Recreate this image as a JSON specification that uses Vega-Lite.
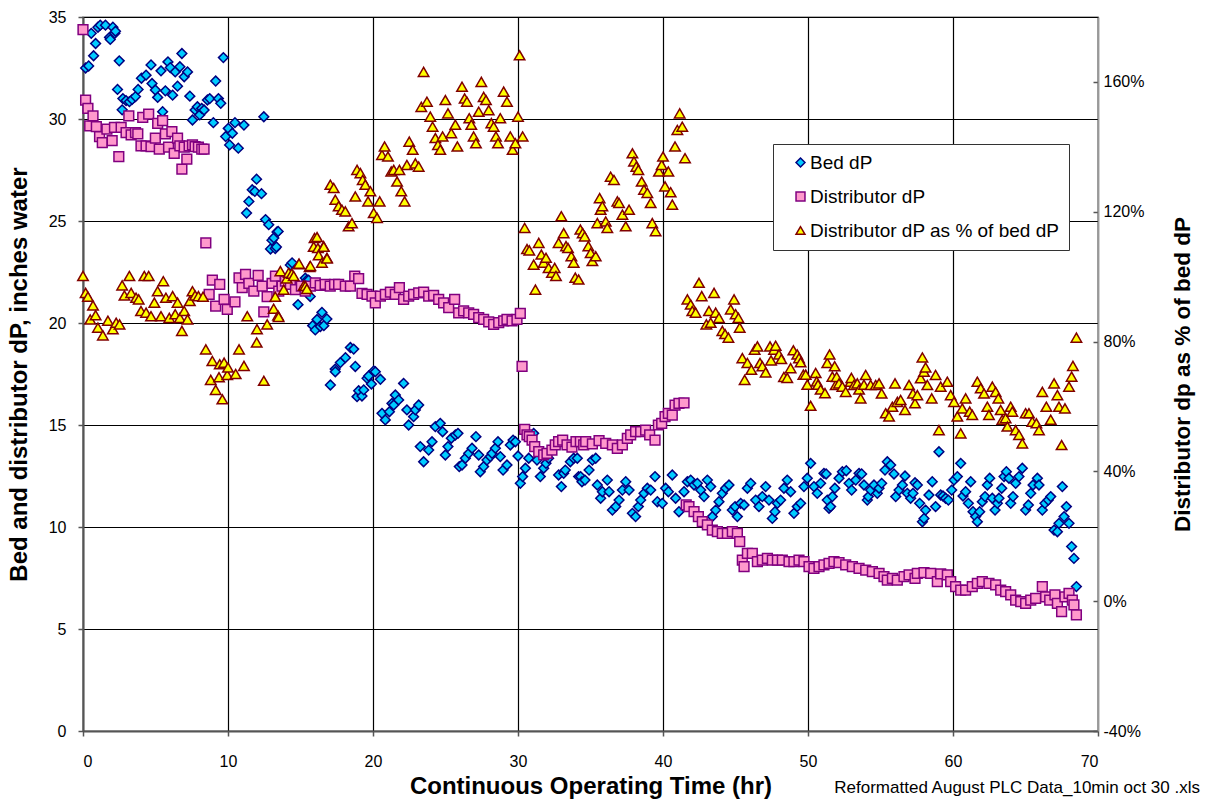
{
  "$schema": "https://vega.github.io/schema/vega-lite/v6.json",
  "width": 1015,
  "height": 714,
  "autosize": {"type": "none"},
  "padding": {"left": 83, "top": 17, "right": 110, "bottom": 70},
  "background": "white",
  "config": {
    "font": "Liberation Sans",
    "view": {"stroke": "#999999", "strokeWidth": 1.5},
    "axis": {
      "labelColor": "black",
      "titleColor": "black",
      "labelFontSize": 16,
      "titleFontSize": 22,
      "titleFontWeight": "bold",
      "gridColor": "black",
      "gridWidth": 1.2,
      "gridOpacity": 1,
      "domainColor": "#555555",
      "domainWidth": 2,
      "tickColor": "#555555",
      "tickWidth": 1.5,
      "tickSize": 5
    }
  },
  "title": {
    "text": "Reformatted August PLC Data_10min oct 30 .xls",
    "orient": "bottom",
    "anchor": "end",
    "frame": "group",
    "fontSize": 17,
    "fontWeight": "normal",
    "color": "black",
    "dx": 102,
    "offset": -18
  },
  "data": {
    "values": [
      {"hr": 0.18, "value": 32.5, "series": "Bed dP"},
      {"hr": 0.39, "value": 32.6, "series": "Bed dP"},
      {"hr": 0.57, "value": 34.2, "series": "Bed dP"},
      {"hr": 0.73, "value": 33.1, "series": "Bed dP"},
      {"hr": 0.87, "value": 33.7, "series": "Bed dP"},
      {"hr": 1.03, "value": 34.5, "series": "Bed dP"},
      {"hr": 1.19, "value": 34.6, "series": "Bed dP"},
      {"hr": 1.55, "value": 34.6, "series": "Bed dP"},
      {"hr": 1.83, "value": 34.0, "series": "Bed dP"},
      {"hr": 1.88, "value": 33.9, "series": "Bed dP"},
      {"hr": 2.06, "value": 34.5, "series": "Bed dP"},
      {"hr": 2.2, "value": 34.2, "series": "Bed dP"},
      {"hr": 2.24, "value": 34.3, "series": "Bed dP"},
      {"hr": 2.38, "value": 31.45, "series": "Bed dP"},
      {"hr": 2.5, "value": 32.85, "series": "Bed dP"},
      {"hr": 2.7, "value": 30.45, "series": "Bed dP"},
      {"hr": 2.75, "value": 31.0, "series": "Bed dP"},
      {"hr": 2.97, "value": 30.9, "series": "Bed dP"},
      {"hr": 3.2, "value": 30.85, "series": "Bed dP"},
      {"hr": 3.39, "value": 30.96, "series": "Bed dP"},
      {"hr": 3.62, "value": 31.1, "series": "Bed dP"},
      {"hr": 3.8, "value": 31.45, "series": "Bed dP"},
      {"hr": 4.03, "value": 32.0, "series": "Bed dP"},
      {"hr": 4.35, "value": 32.15, "series": "Bed dP"},
      {"hr": 4.69, "value": 32.65, "series": "Bed dP"},
      {"hr": 4.76, "value": 31.74, "series": "Bed dP"},
      {"hr": 4.99, "value": 31.42, "series": "Bed dP"},
      {"hr": 5.15, "value": 31.06, "series": "Bed dP"},
      {"hr": 5.38, "value": 32.36, "series": "Bed dP"},
      {"hr": 5.49, "value": 30.36, "series": "Bed dP"},
      {"hr": 5.68, "value": 31.38, "series": "Bed dP"},
      {"hr": 5.86, "value": 32.8, "series": "Bed dP"},
      {"hr": 6.02, "value": 32.52, "series": "Bed dP"},
      {"hr": 6.18, "value": 31.17, "series": "Bed dP"},
      {"hr": 6.36, "value": 32.31, "series": "Bed dP"},
      {"hr": 6.52, "value": 31.61, "series": "Bed dP"},
      {"hr": 6.68, "value": 32.56, "series": "Bed dP"},
      {"hr": 6.82, "value": 33.21, "series": "Bed dP"},
      {"hr": 6.98, "value": 32.07, "series": "Bed dP"},
      {"hr": 7.21, "value": 32.31, "series": "Bed dP"},
      {"hr": 7.37, "value": 31.12, "series": "Bed dP"},
      {"hr": 7.55, "value": 29.95, "series": "Bed dP"},
      {"hr": 7.73, "value": 30.44, "series": "Bed dP"},
      {"hr": 7.89, "value": 30.6, "series": "Bed dP"},
      {"hr": 8.05, "value": 30.2, "series": "Bed dP"},
      {"hr": 8.19, "value": 30.52, "series": "Bed dP"},
      {"hr": 8.35, "value": 30.44, "series": "Bed dP"},
      {"hr": 8.58, "value": 30.93, "series": "Bed dP"},
      {"hr": 8.74, "value": 31.0, "series": "Bed dP"},
      {"hr": 8.99, "value": 29.82, "series": "Bed dP"},
      {"hr": 9.15, "value": 31.86, "series": "Bed dP"},
      {"hr": 9.34, "value": 31.0, "series": "Bed dP"},
      {"hr": 9.5, "value": 30.77, "series": "Bed dP"},
      {"hr": 9.68, "value": 33.01, "series": "Bed dP"},
      {"hr": 9.84, "value": 29.14, "series": "Bed dP"},
      {"hr": 10.02, "value": 29.54, "series": "Bed dP"},
      {"hr": 10.11, "value": 28.73, "series": "Bed dP"},
      {"hr": 10.3, "value": 29.3, "series": "Bed dP"},
      {"hr": 10.48, "value": 29.82, "series": "Bed dP"},
      {"hr": 10.71, "value": 28.57, "series": "Bed dP"},
      {"hr": 11.1, "value": 29.7, "series": "Bed dP"},
      {"hr": 11.28, "value": 25.39, "series": "Bed dP"},
      {"hr": 11.44, "value": 25.96, "series": "Bed dP"},
      {"hr": 11.67, "value": 26.53, "series": "Bed dP"},
      {"hr": 11.85, "value": 26.45, "series": "Bed dP"},
      {"hr": 11.97, "value": 27.05, "series": "Bed dP"},
      {"hr": 12.31, "value": 26.34, "series": "Bed dP"},
      {"hr": 12.47, "value": 30.11, "series": "Bed dP"},
      {"hr": 12.59, "value": 25.07, "series": "Bed dP"},
      {"hr": 12.81, "value": 24.82, "series": "Bed dP"},
      {"hr": 12.93, "value": 23.63, "series": "Bed dP"},
      {"hr": 13.03, "value": 24.06, "series": "Bed dP"},
      {"hr": 13.16, "value": 24.17, "series": "Bed dP"},
      {"hr": 13.26, "value": 23.65, "series": "Bed dP"},
      {"hr": 13.34, "value": 23.73, "series": "Bed dP"},
      {"hr": 13.38, "value": 24.46, "series": "Bed dP"},
      {"hr": 13.46, "value": 24.49, "series": "Bed dP"},
      {"hr": 14.3, "value": 22.84, "series": "Bed dP"},
      {"hr": 14.42, "value": 22.95, "series": "Bed dP"},
      {"hr": 14.83, "value": 20.9, "series": "Bed dP"},
      {"hr": 15.33, "value": 22.2, "series": "Bed dP"},
      {"hr": 15.44, "value": 22.1, "series": "Bed dP"},
      {"hr": 15.56, "value": 22.1, "series": "Bed dP"},
      {"hr": 15.67, "value": 21.3, "series": "Bed dP"},
      {"hr": 15.84, "value": 19.87, "series": "Bed dP"},
      {"hr": 16.02, "value": 19.66, "series": "Bed dP"},
      {"hr": 16.14, "value": 20.17, "series": "Bed dP"},
      {"hr": 16.37, "value": 19.83, "series": "Bed dP"},
      {"hr": 16.48, "value": 20.52, "series": "Bed dP"},
      {"hr": 16.61, "value": 19.87, "series": "Bed dP"},
      {"hr": 16.82, "value": 20.2, "series": "Bed dP"},
      {"hr": 17.06, "value": 16.96, "series": "Bed dP"},
      {"hr": 17.39, "value": 17.74, "series": "Bed dP"},
      {"hr": 17.4, "value": 17.61, "series": "Bed dP"},
      {"hr": 17.75, "value": 18.06, "series": "Bed dP"},
      {"hr": 18.1, "value": 18.3, "series": "Bed dP"},
      {"hr": 18.44, "value": 18.8, "series": "Bed dP"},
      {"hr": 18.67, "value": 18.72, "series": "Bed dP"},
      {"hr": 18.78, "value": 17.87, "series": "Bed dP"},
      {"hr": 18.9, "value": 16.39, "series": "Bed dP"},
      {"hr": 19.01, "value": 16.68, "series": "Bed dP"},
      {"hr": 19.24, "value": 16.42, "series": "Bed dP"},
      {"hr": 19.36, "value": 16.72, "series": "Bed dP"},
      {"hr": 19.59, "value": 17.29, "series": "Bed dP"},
      {"hr": 19.7, "value": 17.4, "series": "Bed dP"},
      {"hr": 19.89, "value": 17.01, "series": "Bed dP"},
      {"hr": 20.05, "value": 17.65, "series": "Bed dP"},
      {"hr": 20.16, "value": 17.61, "series": "Bed dP"},
      {"hr": 20.51, "value": 17.24, "series": "Bed dP"},
      {"hr": 20.62, "value": 15.57, "series": "Bed dP"},
      {"hr": 20.85, "value": 15.25, "series": "Bed dP"},
      {"hr": 21.13, "value": 15.65, "series": "Bed dP"},
      {"hr": 21.31, "value": 16.06, "series": "Bed dP"},
      {"hr": 21.43, "value": 15.98, "series": "Bed dP"},
      {"hr": 21.54, "value": 16.47, "series": "Bed dP"},
      {"hr": 21.77, "value": 16.23, "series": "Bed dP"},
      {"hr": 22.11, "value": 17.04, "series": "Bed dP"},
      {"hr": 22.34, "value": 15.74, "series": "Bed dP"},
      {"hr": 22.46, "value": 15.0, "series": "Bed dP"},
      {"hr": 22.8, "value": 15.41, "series": "Bed dP"},
      {"hr": 22.92, "value": 15.74, "series": "Bed dP"},
      {"hr": 23.15, "value": 15.98, "series": "Bed dP"},
      {"hr": 23.26, "value": 13.94, "series": "Bed dP"},
      {"hr": 23.49, "value": 13.2, "series": "Bed dP"},
      {"hr": 23.84, "value": 13.77, "series": "Bed dP"},
      {"hr": 24.07, "value": 14.18, "series": "Bed dP"},
      {"hr": 24.3, "value": 14.92, "series": "Bed dP"},
      {"hr": 24.64, "value": 15.08, "series": "Bed dP"},
      {"hr": 24.8, "value": 14.67, "series": "Bed dP"},
      {"hr": 24.99, "value": 13.53, "series": "Bed dP"},
      {"hr": 25.17, "value": 13.94, "series": "Bed dP"},
      {"hr": 25.4, "value": 14.35, "series": "Bed dP"},
      {"hr": 25.68, "value": 14.51, "series": "Bed dP"},
      {"hr": 25.86, "value": 14.59, "series": "Bed dP"},
      {"hr": 25.95, "value": 12.96, "series": "Bed dP"},
      {"hr": 26.14, "value": 13.04, "series": "Bed dP"},
      {"hr": 26.37, "value": 13.37, "series": "Bed dP"},
      {"hr": 26.6, "value": 13.61, "series": "Bed dP"},
      {"hr": 26.83, "value": 13.86, "series": "Bed dP"},
      {"hr": 27.1, "value": 14.43, "series": "Bed dP"},
      {"hr": 27.29, "value": 13.53, "series": "Bed dP"},
      {"hr": 27.4, "value": 12.71, "series": "Bed dP"},
      {"hr": 27.63, "value": 12.96, "series": "Bed dP"},
      {"hr": 27.86, "value": 13.28, "series": "Bed dP"},
      {"hr": 28.09, "value": 13.45, "series": "Bed dP"},
      {"hr": 28.21, "value": 13.61, "series": "Bed dP"},
      {"hr": 28.44, "value": 13.86, "series": "Bed dP"},
      {"hr": 28.62, "value": 14.18, "series": "Bed dP"},
      {"hr": 28.78, "value": 13.45, "series": "Bed dP"},
      {"hr": 28.97, "value": 12.79, "series": "Bed dP"},
      {"hr": 29.24, "value": 13.04, "series": "Bed dP"},
      {"hr": 29.47, "value": 14.02, "series": "Bed dP"},
      {"hr": 29.66, "value": 14.26, "series": "Bed dP"},
      {"hr": 29.82, "value": 14.18, "series": "Bed dP"},
      {"hr": 30.0, "value": 13.48, "series": "Bed dP"},
      {"hr": 30.16, "value": 12.14, "series": "Bed dP"},
      {"hr": 30.32, "value": 12.47, "series": "Bed dP"},
      {"hr": 30.51, "value": 12.88, "series": "Bed dP"},
      {"hr": 30.74, "value": 13.37, "series": "Bed dP"},
      {"hr": 31.08, "value": 14.59, "series": "Bed dP"},
      {"hr": 31.31, "value": 13.28, "series": "Bed dP"},
      {"hr": 31.54, "value": 12.47, "series": "Bed dP"},
      {"hr": 31.77, "value": 12.88, "series": "Bed dP"},
      {"hr": 31.93, "value": 13.12, "series": "Bed dP"},
      {"hr": 32.11, "value": 13.37, "series": "Bed dP"},
      {"hr": 32.8, "value": 12.55, "series": "Bed dP"},
      {"hr": 32.99, "value": 11.98, "series": "Bed dP"},
      {"hr": 33.15, "value": 12.63, "series": "Bed dP"},
      {"hr": 33.26, "value": 12.79, "series": "Bed dP"},
      {"hr": 33.61, "value": 13.2, "series": "Bed dP"},
      {"hr": 33.84, "value": 13.37, "series": "Bed dP"},
      {"hr": 34.09, "value": 13.37, "series": "Bed dP"},
      {"hr": 34.18, "value": 12.47, "series": "Bed dP"},
      {"hr": 34.32, "value": 12.47, "series": "Bed dP"},
      {"hr": 34.41, "value": 12.22, "series": "Bed dP"},
      {"hr": 34.62, "value": 12.3, "series": "Bed dP"},
      {"hr": 34.9, "value": 12.79, "series": "Bed dP"},
      {"hr": 35.13, "value": 13.28, "series": "Bed dP"},
      {"hr": 35.36, "value": 13.37, "series": "Bed dP"},
      {"hr": 35.47, "value": 12.06, "series": "Bed dP"},
      {"hr": 35.7, "value": 11.41, "series": "Bed dP"},
      {"hr": 35.82, "value": 11.73, "series": "Bed dP"},
      {"hr": 36.16, "value": 12.3, "series": "Bed dP"},
      {"hr": 36.28, "value": 11.73, "series": "Bed dP"},
      {"hr": 36.51, "value": 10.83, "series": "Bed dP"},
      {"hr": 36.74, "value": 11.0, "series": "Bed dP"},
      {"hr": 36.97, "value": 11.32, "series": "Bed dP"},
      {"hr": 37.2, "value": 11.81, "series": "Bed dP"},
      {"hr": 37.43, "value": 12.22, "series": "Bed dP"},
      {"hr": 37.66, "value": 11.81, "series": "Bed dP"},
      {"hr": 37.89, "value": 10.67, "series": "Bed dP"},
      {"hr": 38.11, "value": 10.51, "series": "Bed dP"},
      {"hr": 38.3, "value": 11.0, "series": "Bed dP"},
      {"hr": 38.46, "value": 11.32, "series": "Bed dP"},
      {"hr": 38.69, "value": 11.65, "series": "Bed dP"},
      {"hr": 38.92, "value": 11.9, "series": "Bed dP"},
      {"hr": 39.15, "value": 11.81, "series": "Bed dP"},
      {"hr": 39.45, "value": 12.47, "series": "Bed dP"},
      {"hr": 39.61, "value": 11.24, "series": "Bed dP"},
      {"hr": 39.95, "value": 11.16, "series": "Bed dP"},
      {"hr": 40.18, "value": 11.9, "series": "Bed dP"},
      {"hr": 40.37, "value": 11.73, "series": "Bed dP"},
      {"hr": 40.64, "value": 12.55, "series": "Bed dP"},
      {"hr": 40.87, "value": 11.41, "series": "Bed dP"},
      {"hr": 41.1, "value": 10.75, "series": "Bed dP"},
      {"hr": 41.45, "value": 11.73, "series": "Bed dP"},
      {"hr": 41.68, "value": 12.22, "series": "Bed dP"},
      {"hr": 41.91, "value": 12.3, "series": "Bed dP"},
      {"hr": 42.14, "value": 12.06, "series": "Bed dP"},
      {"hr": 42.37, "value": 12.14, "series": "Bed dP"},
      {"hr": 42.6, "value": 11.81, "series": "Bed dP"},
      {"hr": 42.83, "value": 11.49, "series": "Bed dP"},
      {"hr": 43.06, "value": 12.3, "series": "Bed dP"},
      {"hr": 43.29, "value": 11.98, "series": "Bed dP"},
      {"hr": 43.4, "value": 10.51, "series": "Bed dP"},
      {"hr": 43.63, "value": 10.83, "series": "Bed dP"},
      {"hr": 43.86, "value": 11.24, "series": "Bed dP"},
      {"hr": 44.09, "value": 11.65, "series": "Bed dP"},
      {"hr": 44.32, "value": 11.9, "series": "Bed dP"},
      {"hr": 44.55, "value": 12.06, "series": "Bed dP"},
      {"hr": 44.78, "value": 10.83, "series": "Bed dP"},
      {"hr": 44.97, "value": 11.0, "series": "Bed dP"},
      {"hr": 45.13, "value": 10.51, "series": "Bed dP"},
      {"hr": 45.36, "value": 11.16, "series": "Bed dP"},
      {"hr": 45.59, "value": 11.08, "series": "Bed dP"},
      {"hr": 45.82, "value": 11.9, "series": "Bed dP"},
      {"hr": 46.05, "value": 12.14, "series": "Bed dP"},
      {"hr": 46.39, "value": 11.32, "series": "Bed dP"},
      {"hr": 46.62, "value": 11.0, "series": "Bed dP"},
      {"hr": 46.85, "value": 11.49, "series": "Bed dP"},
      {"hr": 47.08, "value": 11.98, "series": "Bed dP"},
      {"hr": 47.31, "value": 11.32, "series": "Bed dP"},
      {"hr": 47.54, "value": 10.42, "series": "Bed dP"},
      {"hr": 47.72, "value": 10.75, "series": "Bed dP"},
      {"hr": 47.89, "value": 11.16, "series": "Bed dP"},
      {"hr": 48.11, "value": 11.32, "series": "Bed dP"},
      {"hr": 48.34, "value": 11.9, "series": "Bed dP"},
      {"hr": 48.57, "value": 12.3, "series": "Bed dP"},
      {"hr": 48.8, "value": 11.73, "series": "Bed dP"},
      {"hr": 49.03, "value": 10.67, "series": "Bed dP"},
      {"hr": 49.26, "value": 11.0, "series": "Bed dP"},
      {"hr": 49.49, "value": 11.16, "series": "Bed dP"},
      {"hr": 49.72, "value": 11.98, "series": "Bed dP"},
      {"hr": 49.95, "value": 12.39, "series": "Bed dP"},
      {"hr": 50.18, "value": 13.12, "series": "Bed dP"},
      {"hr": 50.41, "value": 11.98, "series": "Bed dP"},
      {"hr": 50.64, "value": 11.65, "series": "Bed dP"},
      {"hr": 50.87, "value": 12.14, "series": "Bed dP"},
      {"hr": 51.1, "value": 12.63, "series": "Bed dP"},
      {"hr": 51.25, "value": 12.6, "series": "Bed dP"},
      {"hr": 51.33, "value": 11.32, "series": "Bed dP"},
      {"hr": 51.45, "value": 10.92, "series": "Bed dP"},
      {"hr": 51.56, "value": 11.0, "series": "Bed dP"},
      {"hr": 51.68, "value": 11.49, "series": "Bed dP"},
      {"hr": 51.85, "value": 11.9, "series": "Bed dP"},
      {"hr": 52.14, "value": 12.39, "series": "Bed dP"},
      {"hr": 52.37, "value": 12.71, "series": "Bed dP"},
      {"hr": 52.64, "value": 12.76, "series": "Bed dP"},
      {"hr": 52.83, "value": 12.14, "series": "Bed dP"},
      {"hr": 53.01, "value": 11.81, "series": "Bed dP"},
      {"hr": 53.29, "value": 12.3, "series": "Bed dP"},
      {"hr": 53.52, "value": 12.63, "series": "Bed dP"},
      {"hr": 53.7, "value": 12.6, "series": "Bed dP"},
      {"hr": 53.86, "value": 12.06, "series": "Bed dP"},
      {"hr": 54.09, "value": 11.32, "series": "Bed dP"},
      {"hr": 54.16, "value": 11.49, "series": "Bed dP"},
      {"hr": 54.32, "value": 11.81, "series": "Bed dP"},
      {"hr": 54.55, "value": 12.06, "series": "Bed dP"},
      {"hr": 54.78, "value": 11.65, "series": "Bed dP"},
      {"hr": 54.9, "value": 11.9, "series": "Bed dP"},
      {"hr": 55.08, "value": 12.14, "series": "Bed dP"},
      {"hr": 55.31, "value": 12.79, "series": "Bed dP"},
      {"hr": 55.47, "value": 13.2, "series": "Bed dP"},
      {"hr": 55.7, "value": 13.04, "series": "Bed dP"},
      {"hr": 55.93, "value": 12.6, "series": "Bed dP"},
      {"hr": 56.05, "value": 11.49, "series": "Bed dP"},
      {"hr": 56.28, "value": 11.81, "series": "Bed dP"},
      {"hr": 56.51, "value": 12.06, "series": "Bed dP"},
      {"hr": 56.69, "value": 12.5, "series": "Bed dP"},
      {"hr": 56.85, "value": 11.65, "series": "Bed dP"},
      {"hr": 57.08, "value": 11.41, "series": "Bed dP"},
      {"hr": 57.24, "value": 11.65, "series": "Bed dP"},
      {"hr": 57.38, "value": 12.17, "series": "Bed dP"},
      {"hr": 57.54, "value": 12.06, "series": "Bed dP"},
      {"hr": 57.7, "value": 11.16, "series": "Bed dP"},
      {"hr": 57.89, "value": 10.26, "series": "Bed dP"},
      {"hr": 58.0, "value": 10.42, "series": "Bed dP"},
      {"hr": 58.11, "value": 10.83, "series": "Bed dP"},
      {"hr": 58.34, "value": 11.57, "series": "Bed dP"},
      {"hr": 58.57, "value": 12.22, "series": "Bed dP"},
      {"hr": 58.8, "value": 11.0, "series": "Bed dP"},
      {"hr": 59.03, "value": 13.69, "series": "Bed dP"},
      {"hr": 59.15, "value": 11.57, "series": "Bed dP"},
      {"hr": 59.31, "value": 11.52, "series": "Bed dP"},
      {"hr": 59.49, "value": 11.41, "series": "Bed dP"},
      {"hr": 59.68, "value": 11.32, "series": "Bed dP"},
      {"hr": 59.91, "value": 11.81, "series": "Bed dP"},
      {"hr": 60.07, "value": 12.3, "series": "Bed dP"},
      {"hr": 60.3, "value": 12.47, "series": "Bed dP"},
      {"hr": 60.53, "value": 13.12, "series": "Bed dP"},
      {"hr": 60.69, "value": 11.52, "series": "Bed dP"},
      {"hr": 60.87, "value": 11.73, "series": "Bed dP"},
      {"hr": 61.06, "value": 11.16, "series": "Bed dP"},
      {"hr": 61.22, "value": 12.22, "series": "Bed dP"},
      {"hr": 61.38, "value": 10.75, "series": "Bed dP"},
      {"hr": 61.56, "value": 10.51, "series": "Bed dP"},
      {"hr": 61.68, "value": 10.26, "series": "Bed dP"},
      {"hr": 61.84, "value": 10.75, "series": "Bed dP"},
      {"hr": 62.02, "value": 11.24, "series": "Bed dP"},
      {"hr": 62.21, "value": 11.49, "series": "Bed dP"},
      {"hr": 62.37, "value": 12.06, "series": "Bed dP"},
      {"hr": 62.53, "value": 12.39, "series": "Bed dP"},
      {"hr": 62.71, "value": 11.41, "series": "Bed dP"},
      {"hr": 62.9, "value": 10.83, "series": "Bed dP"},
      {"hr": 63.06, "value": 11.16, "series": "Bed dP"},
      {"hr": 63.17, "value": 11.41, "series": "Bed dP"},
      {"hr": 63.36, "value": 11.9, "series": "Bed dP"},
      {"hr": 63.52, "value": 12.47, "series": "Bed dP"},
      {"hr": 63.68, "value": 12.71, "series": "Bed dP"},
      {"hr": 63.86, "value": 12.39, "series": "Bed dP"},
      {"hr": 63.98, "value": 11.16, "series": "Bed dP"},
      {"hr": 64.14, "value": 11.49, "series": "Bed dP"},
      {"hr": 64.32, "value": 12.14, "series": "Bed dP"},
      {"hr": 64.55, "value": 12.47, "series": "Bed dP"},
      {"hr": 64.78, "value": 12.88, "series": "Bed dP"},
      {"hr": 65.01, "value": 10.83, "series": "Bed dP"},
      {"hr": 65.2, "value": 11.08, "series": "Bed dP"},
      {"hr": 65.36, "value": 11.65, "series": "Bed dP"},
      {"hr": 65.52, "value": 12.06, "series": "Bed dP"},
      {"hr": 65.82, "value": 12.39, "series": "Bed dP"},
      {"hr": 65.93, "value": 12.06, "series": "Bed dP"},
      {"hr": 66.16, "value": 10.83, "series": "Bed dP"},
      {"hr": 66.34, "value": 11.16, "series": "Bed dP"},
      {"hr": 66.57, "value": 11.32, "series": "Bed dP"},
      {"hr": 66.74, "value": 11.49, "series": "Bed dP"},
      {"hr": 66.97, "value": 9.85, "series": "Bed dP"},
      {"hr": 67.2, "value": 9.77, "series": "Bed dP"},
      {"hr": 67.31, "value": 10.18, "series": "Bed dP"},
      {"hr": 67.54, "value": 11.98, "series": "Bed dP"},
      {"hr": 67.66, "value": 10.51, "series": "Bed dP"},
      {"hr": 67.82, "value": 11.0, "series": "Bed dP"},
      {"hr": 68.0, "value": 10.18, "series": "Bed dP"},
      {"hr": 68.18, "value": 9.04, "series": "Bed dP"},
      {"hr": 68.34, "value": 8.46, "series": "Bed dP"},
      {"hr": 68.51, "value": 7.08, "series": "Bed dP"},

      {"hr": 0.0, "value": 34.38, "series": "Distributor dP"},
      {"hr": 0.18, "value": 30.93, "series": "Distributor dP"},
      {"hr": 0.34, "value": 30.52, "series": "Distributor dP"},
      {"hr": 0.46, "value": 29.66, "series": "Distributor dP"},
      {"hr": 0.69, "value": 30.15, "series": "Distributor dP"},
      {"hr": 0.92, "value": 29.63, "series": "Distributor dP"},
      {"hr": 1.14, "value": 29.14, "series": "Distributor dP"},
      {"hr": 1.33, "value": 28.84, "series": "Distributor dP"},
      {"hr": 1.65, "value": 29.5, "series": "Distributor dP"},
      {"hr": 2.01, "value": 28.94, "series": "Distributor dP"},
      {"hr": 2.17, "value": 29.59, "series": "Distributor dP"},
      {"hr": 2.47, "value": 28.16, "series": "Distributor dP"},
      {"hr": 2.63, "value": 29.59, "series": "Distributor dP"},
      {"hr": 2.97, "value": 29.33, "series": "Distributor dP"},
      {"hr": 3.16, "value": 30.15, "series": "Distributor dP"},
      {"hr": 3.32, "value": 29.22, "series": "Distributor dP"},
      {"hr": 3.62, "value": 29.33, "series": "Distributor dP"},
      {"hr": 3.78, "value": 29.27, "series": "Distributor dP"},
      {"hr": 4.0, "value": 28.68, "series": "Distributor dP"},
      {"hr": 4.12, "value": 30.08, "series": "Distributor dP"},
      {"hr": 4.35, "value": 28.68, "series": "Distributor dP"},
      {"hr": 4.53, "value": 30.24, "series": "Distributor dP"},
      {"hr": 4.69, "value": 28.65, "series": "Distributor dP"},
      {"hr": 4.99, "value": 29.06, "series": "Distributor dP"},
      {"hr": 5.15, "value": 29.79, "series": "Distributor dP"},
      {"hr": 5.26, "value": 28.52, "series": "Distributor dP"},
      {"hr": 5.49, "value": 29.92, "series": "Distributor dP"},
      {"hr": 5.68, "value": 29.27, "series": "Distributor dP"},
      {"hr": 5.9, "value": 28.62, "series": "Distributor dP"},
      {"hr": 6.13, "value": 29.38, "series": "Distributor dP"},
      {"hr": 6.29, "value": 28.32, "series": "Distributor dP"},
      {"hr": 6.52, "value": 29.06, "series": "Distributor dP"},
      {"hr": 6.68, "value": 28.68, "series": "Distributor dP"},
      {"hr": 6.82, "value": 27.54, "series": "Distributor dP"},
      {"hr": 6.98, "value": 28.62, "series": "Distributor dP"},
      {"hr": 7.16, "value": 28.03, "series": "Distributor dP"},
      {"hr": 7.32, "value": 28.68, "series": "Distributor dP"},
      {"hr": 7.55, "value": 28.73, "series": "Distributor dP"},
      {"hr": 7.73, "value": 28.65, "series": "Distributor dP"},
      {"hr": 7.96, "value": 28.62, "series": "Distributor dP"},
      {"hr": 8.19, "value": 28.52, "series": "Distributor dP"},
      {"hr": 8.35, "value": 28.52, "series": "Distributor dP"},
      {"hr": 8.47, "value": 23.93, "series": "Distributor dP"},
      {"hr": 8.7, "value": 21.4, "series": "Distributor dP"},
      {"hr": 8.92, "value": 22.1, "series": "Distributor dP"},
      {"hr": 9.15, "value": 20.83, "series": "Distributor dP"},
      {"hr": 9.43, "value": 21.89, "series": "Distributor dP"},
      {"hr": 9.73, "value": 21.16, "series": "Distributor dP"},
      {"hr": 9.95, "value": 20.67, "series": "Distributor dP"},
      {"hr": 10.48, "value": 21.03, "series": "Distributor dP"},
      {"hr": 10.76, "value": 22.21, "series": "Distributor dP"},
      {"hr": 10.98, "value": 21.73, "series": "Distributor dP"},
      {"hr": 11.21, "value": 22.38, "series": "Distributor dP"},
      {"hr": 11.44, "value": 21.94, "series": "Distributor dP"},
      {"hr": 11.78, "value": 21.56, "series": "Distributor dP"},
      {"hr": 12.08, "value": 22.33, "series": "Distributor dP"},
      {"hr": 12.36, "value": 21.81, "series": "Distributor dP"},
      {"hr": 12.47, "value": 20.54, "series": "Distributor dP"},
      {"hr": 12.7, "value": 21.29, "series": "Distributor dP"},
      {"hr": 13.04, "value": 21.94, "series": "Distributor dP"},
      {"hr": 13.27, "value": 22.3, "series": "Distributor dP"},
      {"hr": 13.5, "value": 21.56, "series": "Distributor dP"},
      {"hr": 13.73, "value": 21.81, "series": "Distributor dP"},
      {"hr": 13.96, "value": 22.05, "series": "Distributor dP"},
      {"hr": 14.3, "value": 21.89, "series": "Distributor dP"},
      {"hr": 14.65, "value": 21.64, "series": "Distributor dP"},
      {"hr": 15.06, "value": 21.81, "series": "Distributor dP"},
      {"hr": 15.33, "value": 21.56, "series": "Distributor dP"},
      {"hr": 15.68, "value": 21.81, "series": "Distributor dP"},
      {"hr": 16.02, "value": 21.97, "series": "Distributor dP"},
      {"hr": 16.36, "value": 21.84, "series": "Distributor dP"},
      {"hr": 16.7, "value": 21.89, "series": "Distributor dP"},
      {"hr": 17.05, "value": 21.81, "series": "Distributor dP"},
      {"hr": 17.35, "value": 21.89, "series": "Distributor dP"},
      {"hr": 17.63, "value": 21.89, "series": "Distributor dP"},
      {"hr": 18.09, "value": 21.81, "series": "Distributor dP"},
      {"hr": 18.44, "value": 21.81, "series": "Distributor dP"},
      {"hr": 18.74, "value": 22.3, "series": "Distributor dP"},
      {"hr": 19.01, "value": 22.17, "series": "Distributor dP"},
      {"hr": 19.24, "value": 21.45, "series": "Distributor dP"},
      {"hr": 19.59, "value": 21.4, "series": "Distributor dP"},
      {"hr": 19.93, "value": 21.32, "series": "Distributor dP"},
      {"hr": 20.16, "value": 20.99, "series": "Distributor dP"},
      {"hr": 20.51, "value": 21.32, "series": "Distributor dP"},
      {"hr": 20.85, "value": 21.4, "series": "Distributor dP"},
      {"hr": 21.2, "value": 21.51, "series": "Distributor dP"},
      {"hr": 21.54, "value": 21.4, "series": "Distributor dP"},
      {"hr": 21.82, "value": 21.73, "series": "Distributor dP"},
      {"hr": 22.11, "value": 21.16, "series": "Distributor dP"},
      {"hr": 22.46, "value": 21.32, "series": "Distributor dP"},
      {"hr": 22.8, "value": 21.4, "series": "Distributor dP"},
      {"hr": 23.15, "value": 21.48, "series": "Distributor dP"},
      {"hr": 23.49, "value": 21.51, "series": "Distributor dP"},
      {"hr": 23.84, "value": 21.32, "series": "Distributor dP"},
      {"hr": 24.18, "value": 21.35, "series": "Distributor dP"},
      {"hr": 24.53, "value": 21.16, "series": "Distributor dP"},
      {"hr": 24.87, "value": 20.99, "series": "Distributor dP"},
      {"hr": 25.22, "value": 20.75, "series": "Distributor dP"},
      {"hr": 25.63, "value": 21.16, "series": "Distributor dP"},
      {"hr": 25.91, "value": 20.5, "series": "Distributor dP"},
      {"hr": 26.25, "value": 20.59, "series": "Distributor dP"},
      {"hr": 26.6, "value": 20.5, "series": "Distributor dP"},
      {"hr": 26.94, "value": 20.42, "series": "Distributor dP"},
      {"hr": 27.29, "value": 20.26, "series": "Distributor dP"},
      {"hr": 27.63, "value": 20.18, "series": "Distributor dP"},
      {"hr": 27.98, "value": 20.05, "series": "Distributor dP"},
      {"hr": 28.32, "value": 19.93, "series": "Distributor dP"},
      {"hr": 28.67, "value": 20.02, "series": "Distributor dP"},
      {"hr": 29.01, "value": 20.1, "series": "Distributor dP"},
      {"hr": 29.24, "value": 20.18, "series": "Distributor dP"},
      {"hr": 29.59, "value": 20.1, "series": "Distributor dP"},
      {"hr": 29.93, "value": 20.18, "series": "Distributor dP"},
      {"hr": 30.16, "value": 20.47, "series": "Distributor dP"},
      {"hr": 30.28, "value": 17.87, "series": "Distributor dP"},
      {"hr": 30.46, "value": 14.79, "series": "Distributor dP"},
      {"hr": 30.62, "value": 14.51, "series": "Distributor dP"},
      {"hr": 30.78, "value": 14.43, "series": "Distributor dP"},
      {"hr": 30.97, "value": 14.26, "series": "Distributor dP"},
      {"hr": 31.15, "value": 13.94, "series": "Distributor dP"},
      {"hr": 31.43, "value": 13.69, "series": "Distributor dP"},
      {"hr": 31.77, "value": 13.53, "series": "Distributor dP"},
      {"hr": 32.0, "value": 13.61, "series": "Distributor dP"},
      {"hr": 32.34, "value": 13.77, "series": "Distributor dP"},
      {"hr": 32.57, "value": 14.02, "series": "Distributor dP"},
      {"hr": 32.8, "value": 14.18, "series": "Distributor dP"},
      {"hr": 33.08, "value": 14.26, "series": "Distributor dP"},
      {"hr": 33.38, "value": 14.02, "series": "Distributor dP"},
      {"hr": 33.72, "value": 13.91, "series": "Distributor dP"},
      {"hr": 34.0, "value": 14.18, "series": "Distributor dP"},
      {"hr": 34.3, "value": 14.18, "series": "Distributor dP"},
      {"hr": 34.53, "value": 14.02, "series": "Distributor dP"},
      {"hr": 34.67, "value": 14.18, "series": "Distributor dP"},
      {"hr": 35.13, "value": 14.07, "series": "Distributor dP"},
      {"hr": 35.59, "value": 14.23, "series": "Distributor dP"},
      {"hr": 36.05, "value": 14.1, "series": "Distributor dP"},
      {"hr": 36.51, "value": 14.02, "series": "Distributor dP"},
      {"hr": 36.85, "value": 13.86, "series": "Distributor dP"},
      {"hr": 37.2, "value": 14.02, "series": "Distributor dP"},
      {"hr": 37.54, "value": 14.35, "series": "Distributor dP"},
      {"hr": 37.77, "value": 14.51, "series": "Distributor dP"},
      {"hr": 38.11, "value": 14.67, "series": "Distributor dP"},
      {"hr": 38.46, "value": 14.67, "series": "Distributor dP"},
      {"hr": 38.8, "value": 14.75, "series": "Distributor dP"},
      {"hr": 39.08, "value": 14.51, "series": "Distributor dP"},
      {"hr": 39.45, "value": 14.26, "series": "Distributor dP"},
      {"hr": 39.68, "value": 15.0, "series": "Distributor dP"},
      {"hr": 39.91, "value": 15.08, "series": "Distributor dP"},
      {"hr": 40.14, "value": 15.41, "series": "Distributor dP"},
      {"hr": 40.37, "value": 15.57, "series": "Distributor dP"},
      {"hr": 40.64, "value": 15.49, "series": "Distributor dP"},
      {"hr": 40.83, "value": 15.98, "series": "Distributor dP"},
      {"hr": 41.1, "value": 16.06, "series": "Distributor dP"},
      {"hr": 41.45, "value": 16.09, "series": "Distributor dP"},
      {"hr": 41.6, "value": 11.08, "series": "Distributor dP"},
      {"hr": 41.79, "value": 11.0, "series": "Distributor dP"},
      {"hr": 42.14, "value": 10.75, "series": "Distributor dP"},
      {"hr": 42.44, "value": 10.51, "series": "Distributor dP"},
      {"hr": 42.71, "value": 10.26, "series": "Distributor dP"},
      {"hr": 43.06, "value": 10.1, "series": "Distributor dP"},
      {"hr": 43.4, "value": 9.85, "series": "Distributor dP"},
      {"hr": 43.75, "value": 9.77, "series": "Distributor dP"},
      {"hr": 44.09, "value": 9.69, "series": "Distributor dP"},
      {"hr": 44.44, "value": 9.69, "series": "Distributor dP"},
      {"hr": 44.78, "value": 9.77, "series": "Distributor dP"},
      {"hr": 45.13, "value": 9.69, "series": "Distributor dP"},
      {"hr": 45.29, "value": 9.28, "series": "Distributor dP"},
      {"hr": 45.47, "value": 8.38, "series": "Distributor dP"},
      {"hr": 45.59, "value": 8.06, "series": "Distributor dP"},
      {"hr": 45.82, "value": 8.71, "series": "Distributor dP"},
      {"hr": 46.16, "value": 8.71, "series": "Distributor dP"},
      {"hr": 46.51, "value": 8.3, "series": "Distributor dP"},
      {"hr": 46.85, "value": 8.38, "series": "Distributor dP"},
      {"hr": 47.2, "value": 8.46, "series": "Distributor dP"},
      {"hr": 47.54, "value": 8.38, "series": "Distributor dP"},
      {"hr": 47.89, "value": 8.38, "series": "Distributor dP"},
      {"hr": 48.23, "value": 8.38, "series": "Distributor dP"},
      {"hr": 48.69, "value": 8.3, "series": "Distributor dP"},
      {"hr": 49.03, "value": 8.3, "series": "Distributor dP"},
      {"hr": 49.38, "value": 8.38, "series": "Distributor dP"},
      {"hr": 49.72, "value": 8.3, "series": "Distributor dP"},
      {"hr": 50.07, "value": 8.06, "series": "Distributor dP"},
      {"hr": 50.41, "value": 7.97, "series": "Distributor dP"},
      {"hr": 50.76, "value": 8.06, "series": "Distributor dP"},
      {"hr": 51.1, "value": 8.14, "series": "Distributor dP"},
      {"hr": 51.45, "value": 8.22, "series": "Distributor dP"},
      {"hr": 51.79, "value": 8.3, "series": "Distributor dP"},
      {"hr": 52.14, "value": 8.25, "series": "Distributor dP"},
      {"hr": 52.6, "value": 8.14, "series": "Distributor dP"},
      {"hr": 53.06, "value": 8.06, "series": "Distributor dP"},
      {"hr": 53.52, "value": 7.97, "series": "Distributor dP"},
      {"hr": 53.98, "value": 7.89, "series": "Distributor dP"},
      {"hr": 54.44, "value": 7.81, "series": "Distributor dP"},
      {"hr": 54.9, "value": 7.73, "series": "Distributor dP"},
      {"hr": 55.24, "value": 7.57, "series": "Distributor dP"},
      {"hr": 55.47, "value": 7.4, "series": "Distributor dP"},
      {"hr": 55.82, "value": 7.48, "series": "Distributor dP"},
      {"hr": 56.16, "value": 7.4, "series": "Distributor dP"},
      {"hr": 56.62, "value": 7.57, "series": "Distributor dP"},
      {"hr": 56.97, "value": 7.65, "series": "Distributor dP"},
      {"hr": 57.38, "value": 7.48, "series": "Distributor dP"},
      {"hr": 57.54, "value": 7.73, "series": "Distributor dP"},
      {"hr": 58.0, "value": 7.76, "series": "Distributor dP"},
      {"hr": 58.46, "value": 7.73, "series": "Distributor dP"},
      {"hr": 58.92, "value": 7.32, "series": "Distributor dP"},
      {"hr": 59.15, "value": 7.7, "series": "Distributor dP"},
      {"hr": 59.61, "value": 7.65, "series": "Distributor dP"},
      {"hr": 59.84, "value": 7.32, "series": "Distributor dP"},
      {"hr": 60.18, "value": 7.08, "series": "Distributor dP"},
      {"hr": 60.53, "value": 6.91, "series": "Distributor dP"},
      {"hr": 60.87, "value": 6.91, "series": "Distributor dP"},
      {"hr": 61.33, "value": 7.08, "series": "Distributor dP"},
      {"hr": 61.68, "value": 7.24, "series": "Distributor dP"},
      {"hr": 62.02, "value": 7.32, "series": "Distributor dP"},
      {"hr": 62.48, "value": 7.24, "series": "Distributor dP"},
      {"hr": 62.94, "value": 7.16, "series": "Distributor dP"},
      {"hr": 63.29, "value": 6.91, "series": "Distributor dP"},
      {"hr": 63.63, "value": 6.83, "series": "Distributor dP"},
      {"hr": 63.98, "value": 6.67, "series": "Distributor dP"},
      {"hr": 64.32, "value": 6.42, "series": "Distributor dP"},
      {"hr": 64.67, "value": 6.34, "series": "Distributor dP"},
      {"hr": 65.01, "value": 6.26, "series": "Distributor dP"},
      {"hr": 65.36, "value": 6.42, "series": "Distributor dP"},
      {"hr": 65.7, "value": 6.5, "series": "Distributor dP"},
      {"hr": 66.16, "value": 7.08, "series": "Distributor dP"},
      {"hr": 66.39, "value": 6.58, "series": "Distributor dP"},
      {"hr": 66.67, "value": 6.42, "series": "Distributor dP"},
      {"hr": 67.03, "value": 6.67, "series": "Distributor dP"},
      {"hr": 67.2, "value": 6.26, "series": "Distributor dP"},
      {"hr": 67.49, "value": 5.85, "series": "Distributor dP"},
      {"hr": 67.72, "value": 6.58, "series": "Distributor dP"},
      {"hr": 68.0, "value": 6.75, "series": "Distributor dP"},
      {"hr": 68.23, "value": 6.42, "series": "Distributor dP"},
      {"hr": 68.34, "value": 6.18, "series": "Distributor dP"},
      {"hr": 68.51, "value": 5.69, "series": "Distributor dP"},

      {"hr": 0.0, "value": 100.2, "series": "Distributor dP as % of bed dP"},
      {"hr": 0.18, "value": 95.0, "series": "Distributor dP as % of bed dP"},
      {"hr": 0.34, "value": 93.8, "series": "Distributor dP as % of bed dP"},
      {"hr": 0.5, "value": 86.8, "series": "Distributor dP as % of bed dP"},
      {"hr": 0.69, "value": 91.1, "series": "Distributor dP as % of bed dP"},
      {"hr": 0.87, "value": 88.1, "series": "Distributor dP as % of bed dP"},
      {"hr": 1.03, "value": 84.3, "series": "Distributor dP as % of bed dP"},
      {"hr": 1.37, "value": 81.9, "series": "Distributor dP as % of bed dP"},
      {"hr": 1.72, "value": 86.4, "series": "Distributor dP as % of bed dP"},
      {"hr": 2.06, "value": 83.8, "series": "Distributor dP as % of bed dP"},
      {"hr": 2.29, "value": 85.8, "series": "Distributor dP as % of bed dP"},
      {"hr": 2.52, "value": 85.3, "series": "Distributor dP as % of bed dP"},
      {"hr": 2.7, "value": 97.3, "series": "Distributor dP as % of bed dP"},
      {"hr": 2.86, "value": 94.2, "series": "Distributor dP as % of bed dP"},
      {"hr": 3.2, "value": 100.2, "series": "Distributor dP as % of bed dP"},
      {"hr": 3.32, "value": 95.0, "series": "Distributor dP as % of bed dP"},
      {"hr": 3.66, "value": 93.5, "series": "Distributor dP as % of bed dP"},
      {"hr": 3.84, "value": 93.0, "series": "Distributor dP as % of bed dP"},
      {"hr": 4.0, "value": 89.4, "series": "Distributor dP as % of bed dP"},
      {"hr": 4.23, "value": 100.2, "series": "Distributor dP as % of bed dP"},
      {"hr": 4.35, "value": 88.9, "series": "Distributor dP as % of bed dP"},
      {"hr": 4.53, "value": 100.2, "series": "Distributor dP as % of bed dP"},
      {"hr": 4.69, "value": 87.8, "series": "Distributor dP as % of bed dP"},
      {"hr": 4.92, "value": 92.0, "series": "Distributor dP as % of bed dP"},
      {"hr": 5.15, "value": 95.5, "series": "Distributor dP as % of bed dP"},
      {"hr": 5.38, "value": 87.8, "series": "Distributor dP as % of bed dP"},
      {"hr": 5.54, "value": 98.6, "series": "Distributor dP as % of bed dP"},
      {"hr": 5.72, "value": 93.5, "series": "Distributor dP as % of bed dP"},
      {"hr": 5.95, "value": 87.3, "series": "Distributor dP as % of bed dP"},
      {"hr": 6.18, "value": 94.0, "series": "Distributor dP as % of bed dP"},
      {"hr": 6.36, "value": 88.4, "series": "Distributor dP as % of bed dP"},
      {"hr": 6.52, "value": 92.0, "series": "Distributor dP as % of bed dP"},
      {"hr": 6.68, "value": 87.3, "series": "Distributor dP as % of bed dP"},
      {"hr": 6.82, "value": 83.3, "series": "Distributor dP as % of bed dP"},
      {"hr": 6.98, "value": 89.4, "series": "Distributor dP as % of bed dP"},
      {"hr": 7.21, "value": 86.8, "series": "Distributor dP as % of bed dP"},
      {"hr": 7.37, "value": 92.5, "series": "Distributor dP as % of bed dP"},
      {"hr": 7.55, "value": 95.5, "series": "Distributor dP as % of bed dP"},
      {"hr": 7.73, "value": 94.2, "series": "Distributor dP as % of bed dP"},
      {"hr": 7.96, "value": 94.0, "series": "Distributor dP as % of bed dP"},
      {"hr": 8.28, "value": 93.8, "series": "Distributor dP as % of bed dP"},
      {"hr": 8.47, "value": 77.6, "series": "Distributor dP as % of bed dP"},
      {"hr": 8.81, "value": 68.2, "series": "Distributor dP as % of bed dP"},
      {"hr": 8.92, "value": 74.0, "series": "Distributor dP as % of bed dP"},
      {"hr": 9.15, "value": 65.1, "series": "Distributor dP as % of bed dP"},
      {"hr": 9.38, "value": 69.0, "series": "Distributor dP as % of bed dP"},
      {"hr": 9.43, "value": 73.0, "series": "Distributor dP as % of bed dP"},
      {"hr": 9.61, "value": 62.2, "series": "Distributor dP as % of bed dP"},
      {"hr": 9.73, "value": 73.5, "series": "Distributor dP as % of bed dP"},
      {"hr": 9.95, "value": 69.7, "series": "Distributor dP as % of bed dP"},
      {"hr": 10.0, "value": 72.0, "series": "Distributor dP as % of bed dP"},
      {"hr": 10.53, "value": 70.0, "series": "Distributor dP as % of bed dP"},
      {"hr": 10.76, "value": 77.6, "series": "Distributor dP as % of bed dP"},
      {"hr": 11.1, "value": 72.5, "series": "Distributor dP as % of bed dP"},
      {"hr": 11.33, "value": 87.8, "series": "Distributor dP as % of bed dP"},
      {"hr": 11.98, "value": 79.7, "series": "Distributor dP as % of bed dP"},
      {"hr": 12.0, "value": 83.8, "series": "Distributor dP as % of bed dP"},
      {"hr": 12.47, "value": 67.9, "series": "Distributor dP as % of bed dP"},
      {"hr": 12.7, "value": 85.3, "series": "Distributor dP as % of bed dP"},
      {"hr": 13.15, "value": 90.1, "series": "Distributor dP as % of bed dP"},
      {"hr": 13.26, "value": 93.8, "series": "Distributor dP as % of bed dP"},
      {"hr": 13.45, "value": 88.0, "series": "Distributor dP as % of bed dP"},
      {"hr": 13.49, "value": 87.6, "series": "Distributor dP as % of bed dP"},
      {"hr": 13.61, "value": 101.7, "series": "Distributor dP as % of bed dP"},
      {"hr": 13.84, "value": 96.0, "series": "Distributor dP as % of bed dP"},
      {"hr": 14.05, "value": 99.4, "series": "Distributor dP as % of bed dP"},
      {"hr": 14.19, "value": 101.2, "series": "Distributor dP as % of bed dP"},
      {"hr": 14.4, "value": 100.9, "series": "Distributor dP as % of bed dP"},
      {"hr": 14.53, "value": 100.2, "series": "Distributor dP as % of bed dP"},
      {"hr": 14.87, "value": 103.8, "series": "Distributor dP as % of bed dP"},
      {"hr": 14.9, "value": 104.0, "series": "Distributor dP as % of bed dP"},
      {"hr": 15.22, "value": 97.2, "series": "Distributor dP as % of bed dP"},
      {"hr": 15.33, "value": 97.1, "series": "Distributor dP as % of bed dP"},
      {"hr": 15.44, "value": 96.2, "series": "Distributor dP as % of bed dP"},
      {"hr": 15.63, "value": 103.0, "series": "Distributor dP as % of bed dP"},
      {"hr": 15.68, "value": 103.3, "series": "Distributor dP as % of bed dP"},
      {"hr": 15.91, "value": 109.2, "series": "Distributor dP as % of bed dP"},
      {"hr": 15.97, "value": 111.9, "series": "Distributor dP as % of bed dP"},
      {"hr": 16.14, "value": 112.2, "series": "Distributor dP as % of bed dP"},
      {"hr": 16.2, "value": 108.8, "series": "Distributor dP as % of bed dP"},
      {"hr": 16.25, "value": 106.6, "series": "Distributor dP as % of bed dP"},
      {"hr": 16.48, "value": 104.3, "series": "Distributor dP as % of bed dP"},
      {"hr": 16.59, "value": 109.4, "series": "Distributor dP as % of bed dP"},
      {"hr": 16.6, "value": 109.2, "series": "Distributor dP as % of bed dP"},
      {"hr": 16.82, "value": 105.8, "series": "Distributor dP as % of bed dP"},
      {"hr": 16.83, "value": 105.6, "series": "Distributor dP as % of bed dP"},
      {"hr": 17.06, "value": 128.3, "series": "Distributor dP as % of bed dP"},
      {"hr": 17.29, "value": 127.3, "series": "Distributor dP as % of bed dP"},
      {"hr": 17.4, "value": 123.7, "series": "Distributor dP as % of bed dP"},
      {"hr": 17.63, "value": 121.7, "series": "Distributor dP as % of bed dP"},
      {"hr": 17.86, "value": 120.6, "series": "Distributor dP as % of bed dP"},
      {"hr": 18.09, "value": 120.1, "series": "Distributor dP as % of bed dP"},
      {"hr": 18.32, "value": 115.5, "series": "Distributor dP as % of bed dP"},
      {"hr": 18.55, "value": 116.5, "series": "Distributor dP as % of bed dP"},
      {"hr": 18.78, "value": 124.7, "series": "Distributor dP as % of bed dP"},
      {"hr": 18.9, "value": 132.9, "series": "Distributor dP as % of bed dP"},
      {"hr": 19.13, "value": 131.9, "series": "Distributor dP as % of bed dP"},
      {"hr": 19.29, "value": 129.8, "series": "Distributor dP as % of bed dP"},
      {"hr": 19.47, "value": 128.3, "series": "Distributor dP as % of bed dP"},
      {"hr": 19.66, "value": 123.2, "series": "Distributor dP as % of bed dP"},
      {"hr": 19.82, "value": 126.3, "series": "Distributor dP as % of bed dP"},
      {"hr": 20.05, "value": 119.6, "series": "Distributor dP as % of bed dP"},
      {"hr": 20.28, "value": 118.1, "series": "Distributor dP as % of bed dP"},
      {"hr": 20.46, "value": 123.2, "series": "Distributor dP as % of bed dP"},
      {"hr": 20.62, "value": 137.5, "series": "Distributor dP as % of bed dP"},
      {"hr": 20.8, "value": 140.1, "series": "Distributor dP as % of bed dP"},
      {"hr": 21.03, "value": 137.0, "series": "Distributor dP as % of bed dP"},
      {"hr": 21.26, "value": 132.4, "series": "Distributor dP as % of bed dP"},
      {"hr": 21.43, "value": 132.9, "series": "Distributor dP as % of bed dP"},
      {"hr": 21.66, "value": 129.3, "series": "Distributor dP as % of bed dP"},
      {"hr": 21.82, "value": 132.9, "series": "Distributor dP as % of bed dP"},
      {"hr": 21.95, "value": 126.3, "series": "Distributor dP as % of bed dP"},
      {"hr": 22.18, "value": 123.2, "series": "Distributor dP as % of bed dP"},
      {"hr": 22.34, "value": 134.4, "series": "Distributor dP as % of bed dP"},
      {"hr": 22.5, "value": 141.6, "series": "Distributor dP as % of bed dP"},
      {"hr": 22.74, "value": 139.1, "series": "Distributor dP as % of bed dP"},
      {"hr": 22.92, "value": 134.9, "series": "Distributor dP as % of bed dP"},
      {"hr": 23.15, "value": 133.9, "series": "Distributor dP as % of bed dP"},
      {"hr": 23.33, "value": 152.3, "series": "Distributor dP as % of bed dP"},
      {"hr": 23.49, "value": 163.1, "series": "Distributor dP as % of bed dP"},
      {"hr": 23.72, "value": 153.9, "series": "Distributor dP as % of bed dP"},
      {"hr": 23.95, "value": 149.3, "series": "Distributor dP as % of bed dP"},
      {"hr": 24.11, "value": 146.2, "series": "Distributor dP as % of bed dP"},
      {"hr": 24.3, "value": 142.7, "series": "Distributor dP as % of bed dP"},
      {"hr": 24.48, "value": 140.6, "series": "Distributor dP as % of bed dP"},
      {"hr": 24.64, "value": 139.1, "series": "Distributor dP as % of bed dP"},
      {"hr": 24.8, "value": 143.2, "series": "Distributor dP as % of bed dP"},
      {"hr": 24.99, "value": 154.4, "series": "Distributor dP as % of bed dP"},
      {"hr": 25.17, "value": 150.3, "series": "Distributor dP as % of bed dP"},
      {"hr": 25.4, "value": 144.2, "series": "Distributor dP as % of bed dP"},
      {"hr": 25.68, "value": 146.8, "series": "Distributor dP as % of bed dP"},
      {"hr": 25.82, "value": 140.1, "series": "Distributor dP as % of bed dP"},
      {"hr": 26.14, "value": 158.5, "series": "Distributor dP as % of bed dP"},
      {"hr": 26.32, "value": 154.9, "series": "Distributor dP as % of bed dP"},
      {"hr": 26.48, "value": 153.9, "series": "Distributor dP as % of bed dP"},
      {"hr": 26.64, "value": 148.8, "series": "Distributor dP as % of bed dP"},
      {"hr": 26.78, "value": 146.8, "series": "Distributor dP as % of bed dP"},
      {"hr": 26.94, "value": 143.2, "series": "Distributor dP as % of bed dP"},
      {"hr": 27.1, "value": 141.1, "series": "Distributor dP as % of bed dP"},
      {"hr": 27.29, "value": 150.8, "series": "Distributor dP as % of bed dP"},
      {"hr": 27.47, "value": 160.0, "series": "Distributor dP as % of bed dP"},
      {"hr": 27.63, "value": 155.4, "series": "Distributor dP as % of bed dP"},
      {"hr": 27.79, "value": 154.4, "series": "Distributor dP as % of bed dP"},
      {"hr": 27.98, "value": 151.3, "series": "Distributor dP as % of bed dP"},
      {"hr": 28.16, "value": 147.3, "series": "Distributor dP as % of bed dP"},
      {"hr": 28.32, "value": 146.2, "series": "Distributor dP as % of bed dP"},
      {"hr": 28.48, "value": 143.2, "series": "Distributor dP as % of bed dP"},
      {"hr": 28.62, "value": 141.1, "series": "Distributor dP as % of bed dP"},
      {"hr": 28.78, "value": 148.8, "series": "Distributor dP as % of bed dP"},
      {"hr": 29.01, "value": 157.0, "series": "Distributor dP as % of bed dP"},
      {"hr": 29.24, "value": 153.9, "series": "Distributor dP as % of bed dP"},
      {"hr": 29.47, "value": 143.2, "series": "Distributor dP as % of bed dP"},
      {"hr": 29.63, "value": 139.1, "series": "Distributor dP as % of bed dP"},
      {"hr": 29.82, "value": 141.1, "series": "Distributor dP as % of bed dP"},
      {"hr": 30.0, "value": 149.3, "series": "Distributor dP as % of bed dP"},
      {"hr": 30.11, "value": 168.2, "series": "Distributor dP as % of bed dP"},
      {"hr": 30.32, "value": 143.2, "series": "Distributor dP as % of bed dP"},
      {"hr": 30.46, "value": 115.0, "series": "Distributor dP as % of bed dP"},
      {"hr": 30.62, "value": 108.5, "series": "Distributor dP as % of bed dP"},
      {"hr": 30.78, "value": 108.1, "series": "Distributor dP as % of bed dP"},
      {"hr": 31.08, "value": 103.7, "series": "Distributor dP as % of bed dP"},
      {"hr": 31.2, "value": 96.0, "series": "Distributor dP as % of bed dP"},
      {"hr": 31.43, "value": 110.4, "series": "Distributor dP as % of bed dP"},
      {"hr": 31.61, "value": 106.8, "series": "Distributor dP as % of bed dP"},
      {"hr": 31.77, "value": 104.3, "series": "Distributor dP as % of bed dP"},
      {"hr": 31.93, "value": 105.8, "series": "Distributor dP as % of bed dP"},
      {"hr": 32.11, "value": 102.7, "series": "Distributor dP as % of bed dP"},
      {"hr": 32.34, "value": 101.2, "series": "Distributor dP as % of bed dP"},
      {"hr": 32.53, "value": 102.7, "series": "Distributor dP as % of bed dP"},
      {"hr": 32.62, "value": 100.2, "series": "Distributor dP as % of bed dP"},
      {"hr": 32.8, "value": 110.4, "series": "Distributor dP as % of bed dP"},
      {"hr": 32.99, "value": 118.6, "series": "Distributor dP as % of bed dP"},
      {"hr": 33.15, "value": 113.4, "series": "Distributor dP as % of bed dP"},
      {"hr": 33.31, "value": 109.4, "series": "Distributor dP as % of bed dP"},
      {"hr": 33.45, "value": 108.8, "series": "Distributor dP as % of bed dP"},
      {"hr": 33.68, "value": 106.3, "series": "Distributor dP as % of bed dP"},
      {"hr": 33.84, "value": 104.3, "series": "Distributor dP as % of bed dP"},
      {"hr": 33.95, "value": 99.7, "series": "Distributor dP as % of bed dP"},
      {"hr": 34.18, "value": 99.1, "series": "Distributor dP as % of bed dP"},
      {"hr": 34.3, "value": 114.5, "series": "Distributor dP as % of bed dP"},
      {"hr": 34.46, "value": 113.4, "series": "Distributor dP as % of bed dP"},
      {"hr": 34.6, "value": 112.4, "series": "Distributor dP as % of bed dP"},
      {"hr": 34.85, "value": 109.4, "series": "Distributor dP as % of bed dP"},
      {"hr": 35.01, "value": 107.3, "series": "Distributor dP as % of bed dP"},
      {"hr": 35.13, "value": 104.8, "series": "Distributor dP as % of bed dP"},
      {"hr": 35.36, "value": 106.3, "series": "Distributor dP as % of bed dP"},
      {"hr": 35.47, "value": 116.5, "series": "Distributor dP as % of bed dP"},
      {"hr": 35.63, "value": 124.2, "series": "Distributor dP as % of bed dP"},
      {"hr": 35.7, "value": 120.6, "series": "Distributor dP as % of bed dP"},
      {"hr": 35.82, "value": 121.7, "series": "Distributor dP as % of bed dP"},
      {"hr": 36.05, "value": 117.0, "series": "Distributor dP as % of bed dP"},
      {"hr": 36.16, "value": 115.0, "series": "Distributor dP as % of bed dP"},
      {"hr": 36.39, "value": 130.8, "series": "Distributor dP as % of bed dP"},
      {"hr": 36.62, "value": 129.8, "series": "Distributor dP as % of bed dP"},
      {"hr": 36.85, "value": 123.2, "series": "Distributor dP as % of bed dP"},
      {"hr": 36.97, "value": 122.7, "series": "Distributor dP as % of bed dP"},
      {"hr": 37.2, "value": 119.1, "series": "Distributor dP as % of bed dP"},
      {"hr": 37.43, "value": 115.5, "series": "Distributor dP as % of bed dP"},
      {"hr": 37.66, "value": 120.6, "series": "Distributor dP as % of bed dP"},
      {"hr": 37.89, "value": 138.0, "series": "Distributor dP as % of bed dP"},
      {"hr": 38.0, "value": 135.5, "series": "Distributor dP as % of bed dP"},
      {"hr": 38.16, "value": 133.9, "series": "Distributor dP as % of bed dP"},
      {"hr": 38.3, "value": 132.9, "series": "Distributor dP as % of bed dP"},
      {"hr": 38.53, "value": 129.3, "series": "Distributor dP as % of bed dP"},
      {"hr": 38.69, "value": 126.8, "series": "Distributor dP as % of bed dP"},
      {"hr": 38.92, "value": 125.8, "series": "Distributor dP as % of bed dP"},
      {"hr": 39.15, "value": 122.7, "series": "Distributor dP as % of bed dP"},
      {"hr": 39.26, "value": 116.5, "series": "Distributor dP as % of bed dP"},
      {"hr": 39.49, "value": 114.0, "series": "Distributor dP as % of bed dP"},
      {"hr": 39.72, "value": 132.4, "series": "Distributor dP as % of bed dP"},
      {"hr": 39.91, "value": 134.4, "series": "Distributor dP as % of bed dP"},
      {"hr": 40.0, "value": 137.0, "series": "Distributor dP as % of bed dP"},
      {"hr": 40.14, "value": 127.8, "series": "Distributor dP as % of bed dP"},
      {"hr": 40.37, "value": 132.4, "series": "Distributor dP as % of bed dP"},
      {"hr": 40.53, "value": 126.0, "series": "Distributor dP as % of bed dP"},
      {"hr": 40.64, "value": 122.2, "series": "Distributor dP as % of bed dP"},
      {"hr": 40.83, "value": 140.1, "series": "Distributor dP as % of bed dP"},
      {"hr": 40.99, "value": 145.2, "series": "Distributor dP as % of bed dP"},
      {"hr": 41.15, "value": 150.3, "series": "Distributor dP as % of bed dP"},
      {"hr": 41.33, "value": 146.2, "series": "Distributor dP as % of bed dP"},
      {"hr": 41.52, "value": 136.5, "series": "Distributor dP as % of bed dP"},
      {"hr": 41.68, "value": 93.0, "series": "Distributor dP as % of bed dP"},
      {"hr": 41.91, "value": 91.4, "series": "Distributor dP as % of bed dP"},
      {"hr": 42.02, "value": 89.4, "series": "Distributor dP as % of bed dP"},
      {"hr": 42.25, "value": 88.9, "series": "Distributor dP as % of bed dP"},
      {"hr": 42.48, "value": 98.1, "series": "Distributor dP as % of bed dP"},
      {"hr": 42.67, "value": 94.0, "series": "Distributor dP as % of bed dP"},
      {"hr": 42.99, "value": 85.3, "series": "Distributor dP as % of bed dP"},
      {"hr": 43.17, "value": 89.4, "series": "Distributor dP as % of bed dP"},
      {"hr": 43.29, "value": 85.8, "series": "Distributor dP as % of bed dP"},
      {"hr": 43.52, "value": 95.0, "series": "Distributor dP as % of bed dP"},
      {"hr": 43.63, "value": 88.9, "series": "Distributor dP as % of bed dP"},
      {"hr": 43.86, "value": 87.3, "series": "Distributor dP as % of bed dP"},
      {"hr": 44.09, "value": 83.3, "series": "Distributor dP as % of bed dP"},
      {"hr": 44.28, "value": 82.3, "series": "Distributor dP as % of bed dP"},
      {"hr": 44.51, "value": 81.2, "series": "Distributor dP as % of bed dP"},
      {"hr": 44.67, "value": 89.9, "series": "Distributor dP as % of bed dP"},
      {"hr": 44.9, "value": 93.0, "series": "Distributor dP as % of bed dP"},
      {"hr": 45.01, "value": 88.4, "series": "Distributor dP as % of bed dP"},
      {"hr": 45.2, "value": 87.3, "series": "Distributor dP as % of bed dP"},
      {"hr": 45.29, "value": 84.3, "series": "Distributor dP as % of bed dP"},
      {"hr": 45.47, "value": 74.9, "series": "Distributor dP as % of bed dP"},
      {"hr": 45.63, "value": 68.2, "series": "Distributor dP as % of bed dP"},
      {"hr": 45.82, "value": 73.4, "series": "Distributor dP as % of bed dP"},
      {"hr": 46.09, "value": 71.3, "series": "Distributor dP as % of bed dP"},
      {"hr": 46.32, "value": 77.5, "series": "Distributor dP as % of bed dP"},
      {"hr": 46.51, "value": 78.5, "series": "Distributor dP as % of bed dP"},
      {"hr": 46.69, "value": 73.4, "series": "Distributor dP as % of bed dP"},
      {"hr": 46.85, "value": 72.4, "series": "Distributor dP as % of bed dP"},
      {"hr": 47.08, "value": 70.5, "series": "Distributor dP as % of bed dP"},
      {"hr": 47.38, "value": 78.5, "series": "Distributor dP as % of bed dP"},
      {"hr": 47.45, "value": 74.2, "series": "Distributor dP as % of bed dP"},
      {"hr": 47.66, "value": 77.5, "series": "Distributor dP as % of bed dP"},
      {"hr": 47.77, "value": 78.7, "series": "Distributor dP as % of bed dP"},
      {"hr": 48.0, "value": 76.0, "series": "Distributor dP as % of bed dP"},
      {"hr": 48.16, "value": 74.6, "series": "Distributor dP as % of bed dP"},
      {"hr": 48.34, "value": 69.1, "series": "Distributor dP as % of bed dP"},
      {"hr": 48.57, "value": 68.8, "series": "Distributor dP as % of bed dP"},
      {"hr": 48.8, "value": 71.8, "series": "Distributor dP as % of bed dP"},
      {"hr": 48.99, "value": 77.3, "series": "Distributor dP as % of bed dP"},
      {"hr": 49.26, "value": 76.0, "series": "Distributor dP as % of bed dP"},
      {"hr": 49.38, "value": 74.9, "series": "Distributor dP as % of bed dP"},
      {"hr": 49.49, "value": 73.6, "series": "Distributor dP as % of bed dP"},
      {"hr": 49.68, "value": 69.8, "series": "Distributor dP as % of bed dP"},
      {"hr": 49.84, "value": 69.8, "series": "Distributor dP as % of bed dP"},
      {"hr": 49.95, "value": 66.7, "series": "Distributor dP as % of bed dP"},
      {"hr": 50.18, "value": 60.2, "series": "Distributor dP as % of bed dP"},
      {"hr": 50.53, "value": 70.3, "series": "Distributor dP as % of bed dP"},
      {"hr": 50.6, "value": 67.7, "series": "Distributor dP as % of bed dP"},
      {"hr": 50.69, "value": 66.7, "series": "Distributor dP as % of bed dP"},
      {"hr": 50.87, "value": 65.2, "series": "Distributor dP as % of bed dP"},
      {"hr": 51.17, "value": 64.1, "series": "Distributor dP as % of bed dP"},
      {"hr": 51.33, "value": 73.4, "series": "Distributor dP as % of bed dP"},
      {"hr": 51.49, "value": 76.0, "series": "Distributor dP as % of bed dP"},
      {"hr": 51.68, "value": 69.2, "series": "Distributor dP as % of bed dP"},
      {"hr": 51.84, "value": 72.4, "series": "Distributor dP as % of bed dP"},
      {"hr": 51.91, "value": 66.6, "series": "Distributor dP as % of bed dP"},
      {"hr": 51.98, "value": 69.1, "series": "Distributor dP as % of bed dP"},
      {"hr": 52.14, "value": 67.1, "series": "Distributor dP as % of bed dP"},
      {"hr": 52.37, "value": 66.1, "series": "Distributor dP as % of bed dP"},
      {"hr": 52.6, "value": 64.5, "series": "Distributor dP as % of bed dP"},
      {"hr": 52.94, "value": 67.6, "series": "Distributor dP as % of bed dP"},
      {"hr": 52.99, "value": 68.8, "series": "Distributor dP as % of bed dP"},
      {"hr": 53.17, "value": 66.6, "series": "Distributor dP as % of bed dP"},
      {"hr": 53.4, "value": 67.1, "series": "Distributor dP as % of bed dP"},
      {"hr": 53.52, "value": 65.2, "series": "Distributor dP as % of bed dP"},
      {"hr": 53.63, "value": 62.5, "series": "Distributor dP as % of bed dP"},
      {"hr": 53.86, "value": 66.7, "series": "Distributor dP as % of bed dP"},
      {"hr": 53.98, "value": 69.7, "series": "Distributor dP as % of bed dP"},
      {"hr": 54.32, "value": 66.6, "series": "Distributor dP as % of bed dP"},
      {"hr": 54.67, "value": 66.6, "series": "Distributor dP as % of bed dP"},
      {"hr": 54.9, "value": 67.1, "series": "Distributor dP as % of bed dP"},
      {"hr": 55.08, "value": 64.0, "series": "Distributor dP as % of bed dP"},
      {"hr": 55.36, "value": 57.9, "series": "Distributor dP as % of bed dP"},
      {"hr": 55.59, "value": 56.9, "series": "Distributor dP as % of bed dP"},
      {"hr": 55.82, "value": 59.9, "series": "Distributor dP as % of bed dP"},
      {"hr": 56.0, "value": 67.1, "series": "Distributor dP as % of bed dP"},
      {"hr": 56.16, "value": 61.4, "series": "Distributor dP as % of bed dP"},
      {"hr": 56.39, "value": 62.0, "series": "Distributor dP as % of bed dP"},
      {"hr": 56.69, "value": 58.9, "series": "Distributor dP as % of bed dP"},
      {"hr": 56.97, "value": 66.6, "series": "Distributor dP as % of bed dP"},
      {"hr": 57.24, "value": 64.0, "series": "Distributor dP as % of bed dP"},
      {"hr": 57.38, "value": 61.0, "series": "Distributor dP as % of bed dP"},
      {"hr": 57.54, "value": 63.5, "series": "Distributor dP as % of bed dP"},
      {"hr": 57.77, "value": 68.7, "series": "Distributor dP as % of bed dP"},
      {"hr": 57.89, "value": 75.1, "series": "Distributor dP as % of bed dP"},
      {"hr": 58.0, "value": 70.7, "series": "Distributor dP as % of bed dP"},
      {"hr": 58.11, "value": 72.0, "series": "Distributor dP as % of bed dP"},
      {"hr": 58.23, "value": 66.6, "series": "Distributor dP as % of bed dP"},
      {"hr": 58.53, "value": 62.5, "series": "Distributor dP as % of bed dP"},
      {"hr": 58.8, "value": 69.7, "series": "Distributor dP as % of bed dP"},
      {"hr": 59.03, "value": 52.7, "series": "Distributor dP as % of bed dP"},
      {"hr": 59.15, "value": 66.1, "series": "Distributor dP as % of bed dP"},
      {"hr": 59.61, "value": 67.6, "series": "Distributor dP as % of bed dP"},
      {"hr": 59.84, "value": 63.5, "series": "Distributor dP as % of bed dP"},
      {"hr": 60.07, "value": 61.4, "series": "Distributor dP as % of bed dP"},
      {"hr": 60.3, "value": 56.9, "series": "Distributor dP as % of bed dP"},
      {"hr": 60.53, "value": 51.7, "series": "Distributor dP as % of bed dP"},
      {"hr": 60.64, "value": 59.4, "series": "Distributor dP as % of bed dP"},
      {"hr": 60.87, "value": 62.5, "series": "Distributor dP as % of bed dP"},
      {"hr": 61.15, "value": 58.4, "series": "Distributor dP as % of bed dP"},
      {"hr": 61.33, "value": 57.4, "series": "Distributor dP as % of bed dP"},
      {"hr": 61.68, "value": 67.6, "series": "Distributor dP as % of bed dP"},
      {"hr": 61.91, "value": 65.6, "series": "Distributor dP as % of bed dP"},
      {"hr": 62.14, "value": 64.0, "series": "Distributor dP as % of bed dP"},
      {"hr": 62.37, "value": 59.9, "series": "Distributor dP as % of bed dP"},
      {"hr": 62.48, "value": 57.4, "series": "Distributor dP as % of bed dP"},
      {"hr": 62.71, "value": 66.1, "series": "Distributor dP as % of bed dP"},
      {"hr": 62.94, "value": 64.5, "series": "Distributor dP as % of bed dP"},
      {"hr": 63.13, "value": 62.5, "series": "Distributor dP as % of bed dP"},
      {"hr": 63.29, "value": 58.9, "series": "Distributor dP as % of bed dP"},
      {"hr": 63.4, "value": 55.9, "series": "Distributor dP as % of bed dP"},
      {"hr": 63.63, "value": 56.4, "series": "Distributor dP as % of bed dP"},
      {"hr": 63.75, "value": 53.8, "series": "Distributor dP as % of bed dP"},
      {"hr": 63.98, "value": 59.9, "series": "Distributor dP as % of bed dP"},
      {"hr": 64.09, "value": 58.4, "series": "Distributor dP as % of bed dP"},
      {"hr": 64.32, "value": 52.7, "series": "Distributor dP as % of bed dP"},
      {"hr": 64.55, "value": 51.2, "series": "Distributor dP as % of bed dP"},
      {"hr": 64.78, "value": 48.6, "series": "Distributor dP as % of bed dP"},
      {"hr": 65.01, "value": 57.9, "series": "Distributor dP as % of bed dP"},
      {"hr": 65.24, "value": 57.9, "series": "Distributor dP as % of bed dP"},
      {"hr": 65.47, "value": 55.3, "series": "Distributor dP as % of bed dP"},
      {"hr": 65.75, "value": 54.8, "series": "Distributor dP as % of bed dP"},
      {"hr": 65.93, "value": 52.7, "series": "Distributor dP as % of bed dP"},
      {"hr": 66.16, "value": 64.5, "series": "Distributor dP as % of bed dP"},
      {"hr": 66.44, "value": 59.9, "series": "Distributor dP as % of bed dP"},
      {"hr": 66.74, "value": 55.9, "series": "Distributor dP as % of bed dP"},
      {"hr": 66.97, "value": 67.1, "series": "Distributor dP as % of bed dP"},
      {"hr": 67.2, "value": 63.5, "series": "Distributor dP as % of bed dP"},
      {"hr": 67.31, "value": 59.9, "series": "Distributor dP as % of bed dP"},
      {"hr": 67.49, "value": 48.1, "series": "Distributor dP as % of bed dP"},
      {"hr": 67.72, "value": 59.4, "series": "Distributor dP as % of bed dP"},
      {"hr": 68.0, "value": 66.1, "series": "Distributor dP as % of bed dP"},
      {"hr": 68.18, "value": 69.2, "series": "Distributor dP as % of bed dP"},
      {"hr": 68.27, "value": 72.5, "series": "Distributor dP as % of bed dP"},
      {"hr": 68.51, "value": 81.2, "series": "Distributor dP as % of bed dP"}
    ]
  },
  "encoding": {
    "x": {
      "field": "hr",
      "type": "quantitative",
      "scale": {"domain": [0, 70], "nice": false, "zero": false},
      "axis": {
        "values": [0, 10, 20, 30, 40, 50, 60, 70],
        "title": "Continuous Operating Time (hr)",
        "titleFontSize": 24,
        "grid": true,
        "labelPadding": 17,
        "titlePadding": 5
      }
    },
    "fill": {
      "field": "series",
      "type": "nominal",
      "scale": {
        "domain": ["Bed dP", "Distributor dP", "Distributor dP as % of bed dP"],
        "range": ["#00CCFF", "#FF99CC", "#FFFF00"]
      },
      "legend": {
        "title": null,
        "orient": "none",
        "legendX": 690,
        "legendY": 127,
        "padding": 9,
        "fillColor": "white",
        "strokeColor": "#333333",
        "labelFontSize": 19,
        "labelColor": "black",
        "labelLimit": 500,
        "rowPadding": 14,
        "symbolOffset": 9,
        "labelOffset": 0,
        "symbolSize": 80,
        "symbolStrokeWidth": 1.5
      }
    },
    "stroke": {
      "field": "series",
      "type": "nominal",
      "scale": {
        "domain": ["Bed dP", "Distributor dP", "Distributor dP as % of bed dP"],
        "range": ["#000080", "#800080", "#800000"]
      },
      "legend": {
        "title": null,
        "orient": "none",
        "legendX": 690,
        "legendY": 127,
        "padding": 9,
        "fillColor": "white",
        "strokeColor": "#333333",
        "labelFontSize": 19,
        "labelColor": "black",
        "labelLimit": 500,
        "rowPadding": 14,
        "symbolOffset": 9,
        "labelOffset": 0,
        "symbolSize": 80,
        "symbolStrokeWidth": 1.5
      }
    },
    "shape": {
      "field": "series",
      "type": "nominal",
      "scale": {
        "domain": ["Bed dP", "Distributor dP", "Distributor dP as % of bed dP"],
        "range": ["diamond", "square", "triangle-up"]
      },
      "legend": {
        "title": null,
        "orient": "none",
        "legendX": 690,
        "legendY": 127,
        "padding": 9,
        "fillColor": "white",
        "strokeColor": "#333333",
        "labelFontSize": 19,
        "labelColor": "black",
        "labelLimit": 500,
        "rowPadding": 14,
        "symbolOffset": 9,
        "labelOffset": 0,
        "symbolSize": 80,
        "symbolStrokeWidth": 1.5
      }
    }
  },
  "layer": [
    {
      "transform": [{"filter": "datum.series !== 'Distributor dP as % of bed dP'"}],
      "mark": {"type": "point", "filled": true, "opacity": 1, "strokeWidth": 1.5, "size": 95},
      "encoding": {
        "y": {
          "field": "value",
          "type": "quantitative",
          "scale": {"domain": [0, 35], "nice": false},
          "axis": {
            "orient": "left",
            "values": [0, 5, 10, 15, 20, 25, 30, 35],
            "title": "Bed and distributor dP, inches water",
            "titleFontSize": 24,
            "grid": true,
            "labelPadding": 12,
            "titlePadding": 17
          }
        }
      }
    },
    {
      "transform": [{"filter": "datum.series === 'Distributor dP as % of bed dP'"}],
      "mark": {"type": "point", "filled": true, "opacity": 1, "strokeWidth": 1.5, "size": 110},
      "encoding": {
        "y": {
          "field": "value",
          "type": "quantitative",
          "scale": {"domain": [-40, 180], "nice": false, "zero": false},
          "axis": {
            "orient": "right",
            "values": [-40, 0, 40, 80, 120, 160],
            "labelExpr": "datum.value + '%'",
            "title": "Distributor dp as % of bed dP",
            "titleFontSize": 22.5,
            "titleAngle": 270,
            "titleBaseline": "top",
            "grid": false,
            "domainColor": "#999999",
            "domainWidth": 1.5,
            "tickSize": -5,
            "labelPadding": 10,
            "titlePadding": 28
          }
        }
      }
    }
  ],
  "resolve": {"scale": {"y": "independent"}, "axis": {"y": "independent"}}
}
